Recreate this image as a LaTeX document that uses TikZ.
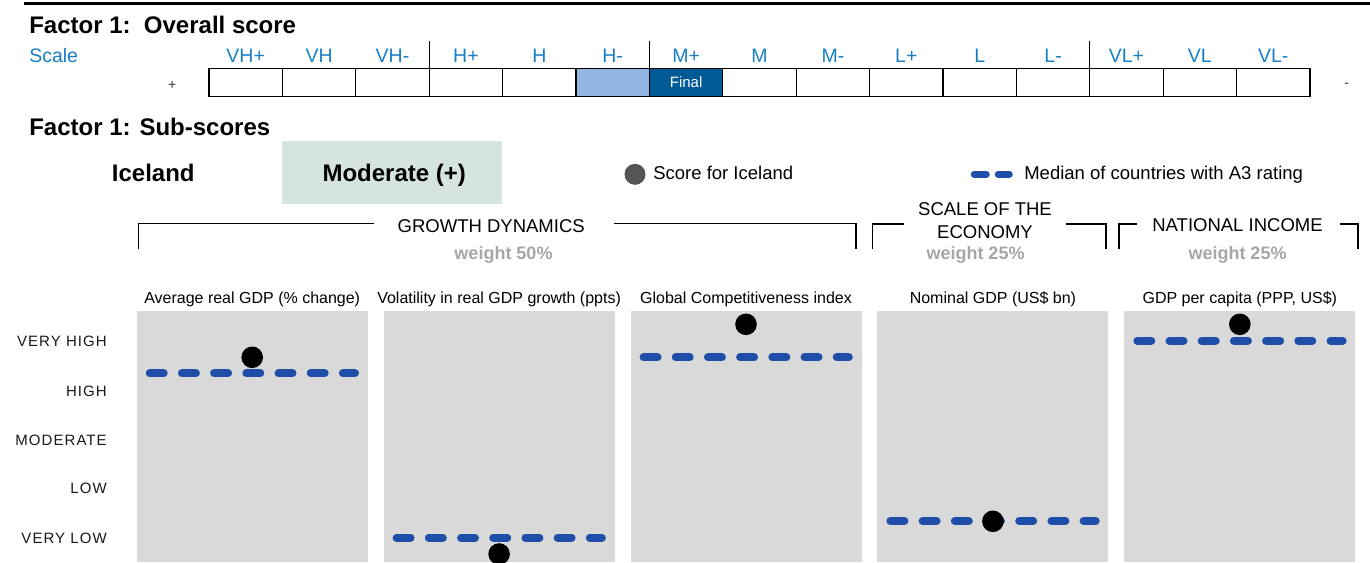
\documentclass[tikz,border=0pt]{standalone}
\usepackage{fontspec}
\setmainfont{Liberation Sans}
\newfontfamily\spacedfont[LetterSpace=7]{Liberation Sans}
\definecolor{scaleblue}{RGB}{24,127,196}
\definecolor{lightblue}{RGB}{147,181,225}
\definecolor{darkblue}{RGB}{0,90,150}
\definecolor{medblue}{RGB}{31,78,168}
\definecolor{panelgray}{RGB}{217,217,217}
\definecolor{boxgreen}{RGB}{213,228,221}
\definecolor{wgray}{RGB}{166,166,166}
\definecolor{dotgray}{RGB}{85,85,85}
\newcommand\fsz[1]{\fontsize{#1}{#1}\selectfont}
\begin{document}
\begin{tikzpicture}[x=1pt,y=-1pt,inner sep=0pt,outer sep=0pt,
  title/.style={font={\fsz{24}\bfseries},anchor=base west},
  scalelab/.style={font={\fsz{19.5}},text=scaleblue,anchor=base},
  cellw/.style={draw=black,line width=1.2pt,fill=white,minimum width=73.4pt,minimum height=28.4pt},
  cellh/.style={cellw,fill=lightblue},
  cellf/.style={cellw,fill=darkblue},
  big/.style={font={\fsz{24}\bfseries},anchor=base},
  legtxt/.style={font={\fsz{18.5}},anchor=base west},
  head/.style={font={\fsz{18.5}},anchor=base},
  weight/.style={font={\fsz{18}\bfseries},text=wgray,anchor=base},
  bracket/.style={line width=1.6pt},
  panel/.style={fill=panelgray,minimum width=231pt,minimum height=251.3pt},
  ptitle/.style={font={\fsz{16}},anchor=base},
  median/.style={draw=medblue,line width=8pt,line cap=round,dash pattern=on 14pt off 18.2pt},
  dot/.style={circle,fill=black,minimum size=21.6pt},
  rowlab/.style={font={\spacedfont\fsz{15}},anchor=east,text height=10.7pt,text depth=0pt,text=black!90}]
\useasboundingbox (0,0) rectangle (1370,562);
\fill[white] (0,0) rectangle (1370,562);
% top rule
\coordinate (rulea) at (24,3.4);
\coordinate (ruleb) at (1370,3.4);
\draw[line width=3.3pt] (rulea) -- (ruleb);
\node[title] (t1) at (29.3,33.3) {Factor 1:\ \ Overall score};
\node[font={\fsz{19.5}},text=scaleblue,anchor=base west] (scale) at (29.3,62.3) {Scale};
% scale cells
\foreach \lab/\sty [count=\i from 0] in {VH+/cellw,VH/cellw,VH-/cellw,H+/cellw,H/cellw,H-/cellh,M+/cellf,M/cellw,M-/cellw,L+/cellw,L/cellw,L-/cellw,VL+/cellw,VL/cellw,VL-/cellw}{
  \node[\sty] (c\i) at ({209+73.4*\i+36.7},82.5) {};
  \node[scalelab] (l\i) at ({209+73.4*\i+36.7},62.3) {\lab};
}
\node[font={\fsz{15}},text=white] (final) at (c6) {Final};
\foreach \k in {3,6,12}{
  \draw[line width=1.2pt] (c\k.north west) -- ++(0,-27.3);
}
\node[font={\fsz{14}},text=black!80] (plus) at (172.3,85) {+};
\node[font={\fsz{14}},text=black!80] (minus) at (1346.7,85) {-};
% sub-scores
\node[title] (t2) at (29.3,135) {Factor 1: Sub-scores};
\node[fill=boxgreen,minimum width=220pt,minimum height=63.3pt] (modbox) at (391.7,172.7) {};
\node[big] (mod) at (394.2,181.7) {Moderate (+)};
\node[big] (ice) at (153.3,181.7) {Iceland};
% legend
\node[circle,fill=dotgray,minimum size=21pt] (legdot) at (635,174.3) {};
\node[legtxt] (legdottxt) at (653.3,179.3) {Score for Iceland};
\coordinate (legd1) at (974,174.3);
\coordinate (legd2) at (1009.5,174.3);
\draw[draw=medblue,line width=6.5pt,line cap=round,dash pattern=on 12.5pt off 11.5pt] (legd1) -- (legd2);
\node[legtxt] (legmedtxt) at (1024.3,179.3) {Median of countries with A3 rating};
% group headers
\node[head] (gd) at (491.2,232.7) {GROWTH DYNAMICS};
\node[weight] (gdw) at (503.5,259) {weight 50\%};
\draw[bracket] (138.3,249.3) -- (138.3,223.5) -- (374,223.5);
\draw[bracket] (614,223.5) -- (855.7,223.5) -- (855.7,249.3);
\node[head] (se1) at (985,215) {SCALE OF THE};
\node[head] (se2) at (985,238) {ECONOMY};
\node[weight] (sew) at (975.5,259) {weight 25\%};
\draw[bracket] (872.3,249.3) -- (872.3,224) -- (904,224);
\draw[bracket] (1066,224) -- (1105.7,224) -- (1105.7,249.3);
\node[head] (ni) at (1237.5,231.7) {NATIONAL INCOME};
\node[weight] (niw) at (1237.5,259) {weight 25\%};
\draw[bracket] (1119,249.3) -- (1119,224) -- (1136.7,224);
\draw[bracket] (1340,224) -- (1357.7,224) -- (1357.7,249.3);
% row labels
\foreach \lab/\y [count=\r] in {VERY HIGH/341,HIGH/391,MODERATE/440,LOW/488.3,VERY LOW/537.7}{
  \node[rowlab] (r\r) at (106.7,\y) {\lab};
}
% panels
\foreach \i/\ttl/\my/\dy in {0/{Average real GDP (\% change)}/373.3/357.3,1/{Volatility in real GDP growth (ppts)}/537.7/554,2/{Global Competitiveness index}/357.3/324.3,3/{Nominal GDP (US\$ bn)}/521/521.3,4/{GDP per capita (PPP, US\$)}/340.7/324.3}{
  \pgfmathsetmacro\cx{252.2+246.9*\i}
  \node[panel] (p\i) at (\cx,436.35) {};
  \node[ptitle] (pt\i) at (\cx,303) {\ttl};
  \coordinate (ma\i) at (\cx-102.5,\my);
  \coordinate (mb\i) at (\cx+102.8,\my);
  \draw[median] (ma\i) -- (mb\i);
  \node[dot] (d\i) at (\cx,\dy) {};
}
\end{tikzpicture}
\end{document}
